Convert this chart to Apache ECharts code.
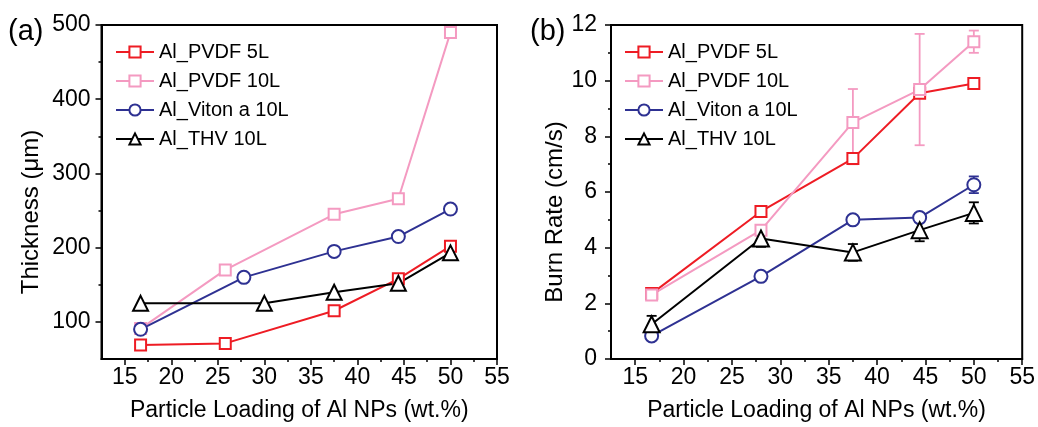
<!DOCTYPE html>
<html>
<head>
<meta charset="utf-8">
<script src="https://cdn.jsdelivr.net/npm/echarts@6/dist/echarts.min.js"></script>
<style>
  html, body { margin: 0; padding: 0; background: #fff; }
  #chart { width: 1038px; height: 427px; }
</style>
</head>
<body>
<div id="chart"></div>
<script>
// (a) thickness vs loading
const loadThick5L = [16.7, 25.8, 37.5, 44.4, 50];
const thick5L = [69, 71, 115, 158, 202];
const loadThick10L = [16.7, 25.8, 37.5, 44.4, 50];
const thick10L = [91, 170, 245, 266, 490];
const loadThickViton = [16.7, 27.8, 37.5, 44.4, 50];
const thickViton = [90, 160, 195, 215, 252];
const loadThickTHV = [16.7, 30, 37.5, 44.4, 50];
const thickTHV = [125, 125, 140, 152, 193];

// (b) burn rate vs loading, with error
const loadBurn = [16.7, 28, 37.5, 44.4, 50];
const burn5L = [2.35, 5.3, 7.2, 9.55, 9.9];
const burn5LErr = [0.15, 0.1, 0.2, 0.15, 0.12];
const burn10L = [2.3, 4.63, 8.5, 9.68, 11.4];
const burn10LErr = [0.15, 0.1, 1.2, 2.0, 0.4];
const burnViton = [0.83, 2.97, 5.0, 5.08, 6.26];
const burnVitonErr = [0.12, 0.1, 0.05, 0.1, 0.3];
const burnTHV = [1.25, 4.33, 3.83, 4.63, 5.25];
const burnTHVErr = [0.3, 0.3, 0.3, 0.4, 0.38];

// ticks
const xTicks = [15, 20, 25, 30, 35, 40, 45, 50, 55];
const xMinor = [17.5, 22.5, 27.5, 32.5, 37.5, 42.5, 47.5, 52.5];
const thickTicks = [100, 200, 300, 400, 500];
const thickMinor = [150, 250, 350, 450];
const burnTicks = [0, 2, 4, 6, 8, 10, 12];
const burnMinor = [1, 3, 5, 7, 9, 11];

const names = ['Al_PVDF 5L', 'Al_PVDF 10L', 'Al_Viton a 10L', 'Al_THV 10L'];
const colors = ['#ee1c24', '#f49ac1', '#2e3192', '#000000'];

const FONT = "'Liberation Sans', Arial, sans-serif";

var chartDom = document.getElementById('chart');
var myChart = echarts.init(chartDom);

function pairs(xs, ys) {
  return ys.map((v, i) => [xs[i], v]);
}
function triples(xs, ys, es) {
  return ys.map((v, i) => [xs[i], v, es[i]]);
}

function mainX(grid) {
  return {
    type: 'value', gridIndex: grid, min: 12.5, max: 55, position: 'bottom',
    name: 'Particle Loading of Al NPs (wt.%)', nameLocation: 'middle', nameGap: 40,
    nameTextStyle: { fontSize: 23, color: '#000', fontFamily: FONT },
    axisLine: { lineStyle: { color: '#000', width: 2 } },
    axisTick: { customValues: xTicks, length: 6, lineStyle: { width: 1.5 } },
    axisLabel: { customValues: xTicks, fontSize: 23, color: '#000', margin: 7, fontFamily: FONT },
    splitLine: { show: false }
  };
}
function minorX(grid) {
  return {
    type: 'value', gridIndex: grid, min: 12.5, max: 55, position: 'bottom',
    axisLine: { show: false },
    axisTick: { customValues: xMinor, length: 3, lineStyle: { width: 1.5, color: '#000' } },
    axisLabel: { show: false },
    splitLine: { show: false }
  };
}
function mainY(grid, min, max, ticks, name, gap, margin) {
  return {
    type: 'value', gridIndex: grid, min: min, max: max, position: 'left',
    name: name, nameLocation: 'middle', nameGap: gap,
    nameTextStyle: { fontSize: 24, color: '#000', fontFamily: FONT, padding: [0, 40, 0, 0] },
    axisLine: { show: true, lineStyle: { color: '#000', width: 2 } },
    axisTick: { show: true, customValues: ticks, length: 6, lineStyle: { width: 1.5 } },
    axisLabel: { customValues: ticks, fontSize: 23, color: '#000', margin: margin, fontFamily: FONT },
    splitLine: { show: false }
  };
}
function minorY(grid, min, max, ticks) {
  return {
    type: 'value', gridIndex: grid, min: min, max: max, position: 'left',
    axisLine: { show: false },
    axisTick: { show: true, customValues: ticks, length: 3, lineStyle: { width: 1.5, color: '#000' } },
    axisLabel: { show: false },
    splitLine: { show: false }
  };
}

function lineSeries(i, name, data, symbol, size, axis) {
  return {
    type: 'line', name: name, data: data,
    xAxisIndex: axis.x, yAxisIndex: axis.y,
    symbol: symbol, symbolSize: size,
    lineStyle: { color: colors[i], width: 2 },
    itemStyle: { color: colors[i], borderColor: colors[i], borderWidth: 2 },
    animation: false
  };
}

function errSeries(i, data) {
  return {
    type: 'custom', name: 'err' + i, xAxisIndex: 2, yAxisIndex: 2, z: 3,
    data: data,
    renderItem: function (params, api) {
      var x = api.value(0), y = api.value(1), e = api.value(2);
      var hi = api.coord([x, y + e]);
      var lo = api.coord([x, y - e]);
      var w = 5;
      var st = { stroke: colors[i], lineWidth: 1.8 };
      return {
        type: 'group',
        children: [
          { type: 'line', shape: { x1: hi[0], y1: hi[1], x2: lo[0], y2: lo[1] }, style: st },
          { type: 'line', shape: { x1: hi[0] - w, y1: hi[1], x2: hi[0] + w, y2: hi[1] }, style: st },
          { type: 'line', shape: { x1: lo[0] - w, y1: lo[1], x2: lo[0] + w, y2: lo[1] }, style: st }
        ]
      };
    },
    animation: false
  };
}

var legendBase = {
  orient: 'vertical', itemWidth: 38, itemHeight: 14, itemGap: 9, itemStyle: { borderWidth: 2 },
  textStyle: { fontSize: 20, color: '#000', fontFamily: FONT },
  data: names
};

var option = {
  backgroundColor: '#fff',
  animation: false,
  grid: [
    { left: 101.5, top: 25, width: 395.5, height: 335.5, show: true, borderColor: '#000', borderWidth: 2 },
    { left: 611, top: 25, width: 412, height: 336.5, show: true, borderColor: '#000', borderWidth: 2 }
  ],
  legend: [
    Object.assign({ left: 110, top: 37 }, legendBase),
    Object.assign({ left: 619, top: 37 }, legendBase)
  ],
  graphic: [
    { type: 'text', left: 8, top: 17, style: { text: '(a)', fontSize: 29, fill: '#000', fontFamily: FONT } },
    { type: 'text', left: 530, top: 17, style: { text: '(b)', fontSize: 29, fill: '#000', fontFamily: FONT } }
  ],
  xAxis: [mainX(0), minorX(0), mainX(1), minorX(1)],
  yAxis: [
    mainY(0, 50, 500, thickTicks, 'Thickness (μm)', 58, 11),
    minorY(0, 50, 500, thickMinor),
    mainY(1, 0, 12, burnTicks, 'Burn Rate (cm/s)', 38, 14),
    minorY(1, 0, 12, burnMinor)
  ],
  series: [
    lineSeries(0, names[0], pairs(loadThick5L, thick5L), 'emptyRect', 11, { x: 0, y: 0 }),
    lineSeries(1, names[1], pairs(loadThick10L, thick10L), 'emptyRect', 11, { x: 0, y: 0 }),
    lineSeries(2, names[2], pairs(loadThickViton, thickViton), 'emptyCircle', 13, { x: 0, y: 0 }),
    lineSeries(3, names[3], pairs(loadThickTHV, thickTHV), 'emptyTriangle', 15, { x: 0, y: 0 }),

    lineSeries(0, names[0], pairs(loadBurn, burn5L), 'emptyRect', 11, { x: 2, y: 2 }),
    lineSeries(1, names[1], pairs(loadBurn, burn10L), 'emptyRect', 11, { x: 2, y: 2 }),
    lineSeries(2, names[2], pairs(loadBurn, burnViton), 'emptyCircle', 13, { x: 2, y: 2 }),
    lineSeries(3, names[3], pairs(loadBurn, burnTHV), 'emptyTriangle', 16, { x: 2, y: 2 }),

    errSeries(0, triples(loadBurn, burn5L, burn5LErr)),
    errSeries(1, triples(loadBurn, burn10L, burn10LErr)),
    errSeries(2, triples(loadBurn, burnViton, burnVitonErr)),
    errSeries(3, triples(loadBurn, burnTHV, burnTHVErr))
  ]
};

option && myChart.setOption(option);
</script>
</body>
</html>
